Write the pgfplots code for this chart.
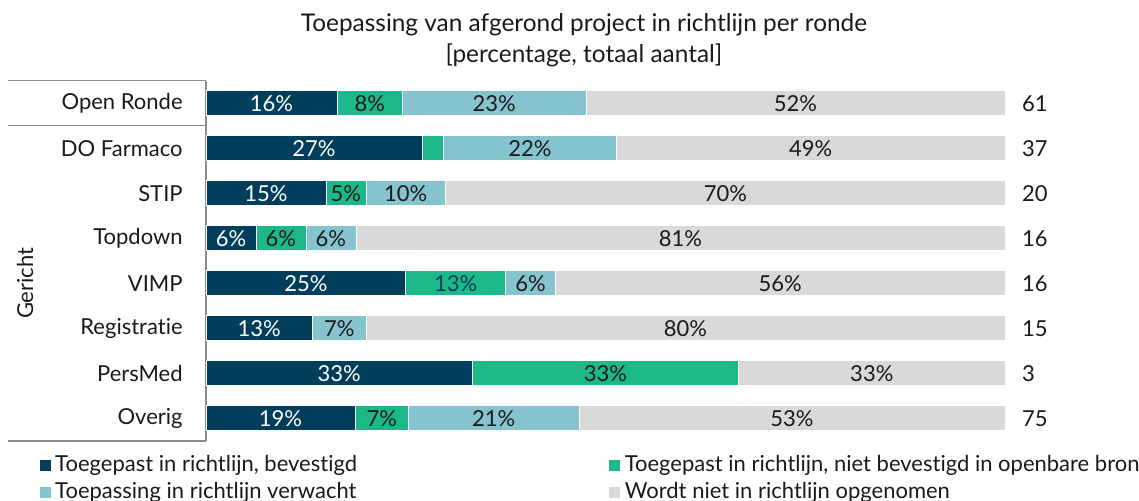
\documentclass[border=0pt]{standalone}
\usepackage{pgfplots}
\pgfplotsset{compat=1.18}
\usepackage{fontspec}
\setmainfont{Lato}[Ligatures={NoCommon}]
\definecolor{cNavy}{HTML}{003E5B}
\definecolor{cGreen}{HTML}{1DB88A}
\definecolor{cBlue}{HTML}{85C4CF}
\definecolor{cGray}{HTML}{D9D9D9}
\definecolor{cText}{HTML}{1A1A1A}
\definecolor{cLine}{HTML}{8C8C8C}
\pgfplotsset{frame/.style={
  at={(103pt,-40.4pt)}, anchor=north west,
  scale only axis, width=399.5pt, height=180pt,
  xmin=0, xmax=100, ymin=-0.5, ymax=7.5, y dir=reverse, clip=false}}
\begin{document}
\begin{tikzpicture}[font=\fontsize{11}{13}\selectfont, text=cText]
\useasboundingbox (0,0) rectangle (569.5pt,-250.5pt);
\node[align=center, font=\fontsize{12.2}{15.5}\selectfont] at (292pt,-20.25pt)
  {Toepassing van afgerond project in richtlijn per ronde\\ {[percentage, totaal aantal]}};
\begin{axis}[
  frame,
  xbar stacked, bar width=12.5pt,
  axis x line=none, axis y line*=left,
  y axis line style={draw=cLine, line width=0.6pt, -},
  ytick={0,...,7},
  yticklabels={Open Ronde, DO Farmaco, STIP, Topdown, VIMP, Registratie, PersMed, Overig},
  major tick length=0pt,
  yticklabel style={inner sep=0pt, xshift=-11.5pt, text=cText, font=\fontsize{11}{13}\selectfont},
  every axis plot/.append style={draw=white, line width=0.3pt},
  legend style={draw=none, fill=none, legend columns=2, at={(axis description cs:-0.21,-0.028)},
    anchor=north west, inner sep=0pt, column sep=0pt, row sep=0pt, font=\fontsize{11}{13}\selectfont},
  legend image code/.code={\fill[#1] (0pt,-3pt) rectangle (6pt,3pt);},
  legend cell align=left,
]
\addplot[fill=cNavy] coordinates {(16.39,0) (27.03,1) (15,2) (6.25,3) (25,4) (13.33,5) (33.33,6) (18.67,7)};
\addlegendentry{\makebox[274.5pt][l]{Toegepast in richtlijn, bevestigd}}
\addplot[fill=cGreen] coordinates {(8.20,0) (2.70,1) (5,2) (6.25,3) (12.5,4) (0,5) (33.33,6) (6.67,7)};
\addlegendentry{Toegepast in richtlijn, niet bevestigd in openbare bron}
\addplot[fill=cBlue] coordinates {(22.95,0) (21.62,1) (10,2) (6.25,3) (6.25,4) (6.67,5) (0,6) (21.33,7)};
\addlegendentry{\makebox[274.5pt][l]{Toepassing in richtlijn verwacht}}
\addplot[fill=cGray] coordinates {(52.46,0) (48.65,1) (70,2) (81.25,3) (56.25,4) (80,5) (33.33,6) (53.33,7)};
\addlegendentry{Wordt niet in richtlijn opgenomen}
% totals
\node[anchor=west, inner sep=0pt] at (axis cs:102.1,0) {61};
\node[anchor=west, inner sep=0pt] at (axis cs:102.1,1) {37};
\node[anchor=west, inner sep=0pt] at (axis cs:102.1,2) {20};
\node[anchor=west, inner sep=0pt] at (axis cs:102.1,3) {16};
\node[anchor=west, inner sep=0pt] at (axis cs:102.1,4) {16};
\node[anchor=west, inner sep=0pt] at (axis cs:102.1,5) {15};
\node[anchor=west, inner sep=0pt] at (axis cs:102.1,6) {3};
\node[anchor=west, inner sep=0pt] at (axis cs:102.1,7) {75};
% group box
\draw[cLine, line width=0.6pt] (axis cs:-24.8,-0.5) -- (axis cs:0,-0.5);
\draw[cLine, line width=0.6pt] (axis cs:-24.8,0.5) -- (axis cs:0,0.5);
\draw[cLine, line width=0.8pt] (axis cs:-24.8,7.5) -- (axis cs:0,7.5);
\node[rotate=90] at (axis cs:-22.65,4) {Gericht};
\end{axis}
\begin{axis}[frame, hide axis]
\node[text=white] at (axis cs:8.20,0) {16\%};
\node at (axis cs:20.49,0) {8\%};
\node at (axis cs:36.07,0) {23\%};
\node at (axis cs:73.77,0) {52\%};
\node[text=white] at (axis cs:13.51,1) {27\%};
\node at (axis cs:40.54,1) {22\%};
\node at (axis cs:75.68,1) {49\%};
\node[text=white] at (axis cs:7.5,2) {15\%};
\node at (axis cs:17.5,2) {5\%};
\node at (axis cs:25,2) {10\%};
\node at (axis cs:65,2) {70\%};
\node[text=white] at (axis cs:3.125,3) {6\%};
\node at (axis cs:9.375,3) {6\%};
\node at (axis cs:15.625,3) {6\%};
\node at (axis cs:59.375,3) {81\%};
\node[text=white] at (axis cs:12.5,4) {25\%};
\node[text=cNavy] at (axis cs:31.25,4) {13\%};
\node at (axis cs:40.625,4) {6\%};
\node at (axis cs:71.875,4) {56\%};
\node[text=white] at (axis cs:6.67,5) {13\%};
\node at (axis cs:16.67,5) {7\%};
\node at (axis cs:60,5) {80\%};
\node[text=white] at (axis cs:16.67,6) {33\%};
\node at (axis cs:50,6) {33\%};
\node at (axis cs:83.33,6) {33\%};
\node[text=white] at (axis cs:9.33,7) {19\%};
\node at (axis cs:22,7) {7\%};
\node at (axis cs:36,7) {21\%};
\node at (axis cs:73.33,7) {53\%};
\end{axis}
\end{tikzpicture}
\end{document}
